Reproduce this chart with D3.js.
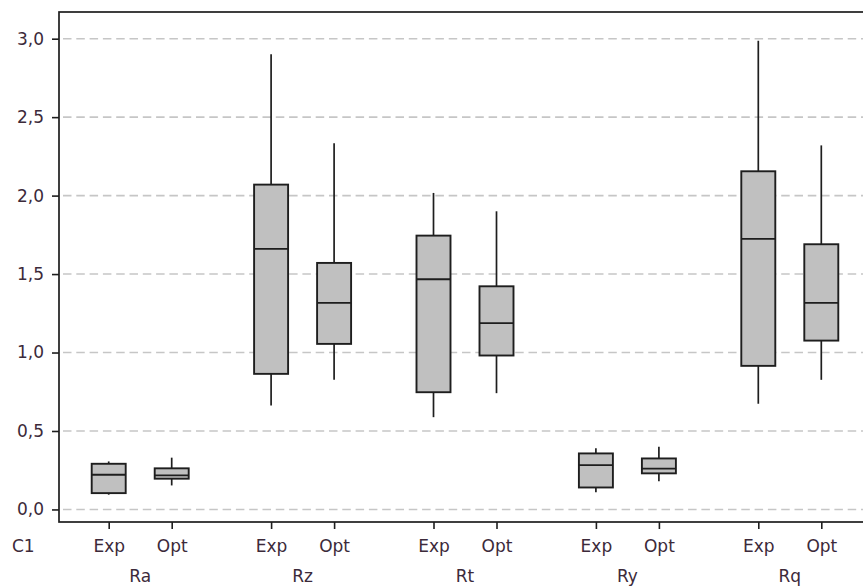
<!DOCTYPE html>
<html>
<head>
<meta charset="utf-8">
<script src="https://cdn.jsdelivr.net/npm/d3@7"></script>
<style>
	body { margin: 0; background: #fff; }
	text { font-family: "DejaVu Sans", Verdana, sans-serif; }
</style>
</head>
<body>
<script>

var groups = ["Ra", "Rz", "Rt", "Ry", "Rq"],
	series = ["Exp", "Opt"],
	// order: Ra Exp, Ra Opt, Rz Exp, Rz Opt, ...
	whiskerLow  = [0.094, 0.153, 0.662, 0.826, 0.588, 0.741, 0.110, 0.180, 0.673, 0.826],
	quart1      = [0.104, 0.196, 0.864, 1.055, 0.747, 0.981, 0.140, 0.230, 0.915, 1.076],
	medians     = [0.221, 0.217, 1.660, 1.317, 1.467, 1.187, 0.283, 0.260, 1.724, 1.317],
	quart3      = [0.291, 0.262, 2.070, 1.571, 1.745, 1.422, 0.357, 0.325, 2.155, 1.690],
	whiskerHigh = [0.306, 0.330, 2.900, 2.333, 2.017, 1.900, 0.390, 0.400, 2.987, 2.320],
	yTicks = [0, 0.5, 1.0, 1.5, 2.0, 2.5, 3.0],
	rowLabel = "C1";

var width = 863,
	height = 587,
	lPad = 59,
	rPad = -8,      // plot runs past the right edge of the picture
	tPad = 12,
	bPad = 65,
	boxWidth = 34,
	innerOff = 31.5,
	textColor = "#3c2a3a",
	lineColor = "#1e1e1e";

var boxes = [];
groups.forEach(function(g, gi) {
	series.forEach(function(s, si) {
		var i = gi * series.length + si;
		boxes.push({group: g, series: s, key: g + "-" + s,
			lo: whiskerLow[i], q1: quart1[i], med: medians[i], q3: quart3[i], hi: whiskerHigh[i]});
	});
});

var groupScale = d3.scaleBand()
	.domain(groups)
	.range([lPad, width - rPad]);

var innerScale = d3.scaleOrdinal()
	.domain(series)
	.range([-innerOff, innerOff]);

var xScale = d3.scaleOrdinal()
	.domain(boxes.map(function(b) { return b.key; }))
	.range(boxes.map(function(b) {
		return groupScale(b.group) + groupScale.bandwidth() / 2 + innerScale(b.series);
	}));

var yScale = d3.scaleLinear()
	.domain([-0.08, 3.17])
	.range([height - bPad, tPad]);

var svg = d3.select("body")
	.append("svg")
	.attr("width", width)
	.attr("height", height);

// dashed grid
svg.append("g")
	.selectAll("line")
	.data(yTicks)
	.enter()
	.append("line")
	.attr("x1", lPad + 4)
	.attr("x2", width - rPad)
	.attr("y1", function(d) { return yScale(d); })
	.attr("y2", function(d) { return yScale(d); })
	.style("stroke", "#c6c6c6")
	.style("stroke-width", 1.6)
	.style("stroke-dasharray", "8.5,4.8");

// whiskers
svg.append("g")
	.selectAll("line")
	.data(boxes)
	.enter()
	.append("line")
	.attr("x1", function(d) { return xScale(d.key); })
	.attr("x2", function(d) { return xScale(d.key); })
	.attr("y1", function(d) { return yScale(d.lo); })
	.attr("y2", function(d) { return yScale(d.hi); })
	.style("stroke", lineColor)
	.style("stroke-width", 1.7);

// boxes
svg.append("g")
	.selectAll("rect")
	.data(boxes)
	.enter()
	.append("rect")
	.attr("x", function(d) { return xScale(d.key) - boxWidth / 2; })
	.attr("y", function(d) { return yScale(d.q3); })
	.attr("width", boxWidth)
	.attr("height", function(d) { return yScale(d.q1) - yScale(d.q3); })
	.style("fill", "#c0c0c0")
	.style("stroke", lineColor)
	.style("stroke-width", 1.9);

// medians
svg.append("g")
	.selectAll("line")
	.data(boxes)
	.enter()
	.append("line")
	.attr("x1", function(d) { return xScale(d.key) - boxWidth / 2; })
	.attr("x2", function(d) { return xScale(d.key) + boxWidth / 2; })
	.attr("y1", function(d) { return yScale(d.med); })
	.attr("y2", function(d) { return yScale(d.med); })
	.style("stroke", lineColor)
	.style("stroke-width", 1.8);

// frame
svg.append("rect")
	.attr("x", lPad)
	.attr("y", tPad)
	.attr("width", width - rPad - lPad)
	.attr("height", height - bPad - tPad)
	.style("fill", "none")
	.style("stroke", lineColor)
	.style("stroke-width", 1.7);

var fmt = d3.format(".1f");
var yAxis = d3.axisLeft(yScale)
	.tickValues(yTicks)
	.tickSize(7)
	.tickPadding(8)
	.tickFormat(function(d) { return fmt(d).replace(".", ","); });

svg.append("g")
	.attr("class", "y axis")
	.attr("transform", "translate(" + lPad + ",0)")
	.call(yAxis)
	.call(function(g) { g.select(".domain").remove(); })
	.call(function(g) {
		g.selectAll("line").style("stroke", lineColor).style("stroke-width", 1.6);
		g.selectAll("text")
			.style("font-size", "17px")
			.style("font-family", "DejaVu Sans")
			.style("fill", textColor);
	});

var xAxis = d3.axisBottom(xScale)
	.tickSize(7)
	.tickPadding(11)
	.tickFormat(function(k) { return k.split("-")[1]; });

svg.append("g")
	.attr("class", "x axis")
	.attr("transform", "translate(0," + (height - bPad) + ")")
	.call(xAxis)
	.call(function(g) { g.select(".domain").remove(); })
	.call(function(g) {
		g.selectAll("line").style("stroke", lineColor).style("stroke-width", 1.6);
		g.selectAll("text")
			.style("font-size", "17px")
			.style("font-family", "DejaVu Sans")
			.style("fill", textColor);
	});

svg.append("g")
	.selectAll("text")
	.data(groups)
	.enter()
	.append("text")
	.attr("x", function(d) { return groupScale(d) + groupScale.bandwidth() / 2; })
	.attr("y", 582)
	.style("text-anchor", "middle")
	.style("font-size", "17px")
	.style("fill", textColor)
	.text(function(d) { return d; });

svg.append("text")
	.attr("x", 12)
	.attr("y", 552)
	.style("font-size", "17px")
	.style("fill", textColor)
	.text(rowLabel);

</script>
</body>
</html>
